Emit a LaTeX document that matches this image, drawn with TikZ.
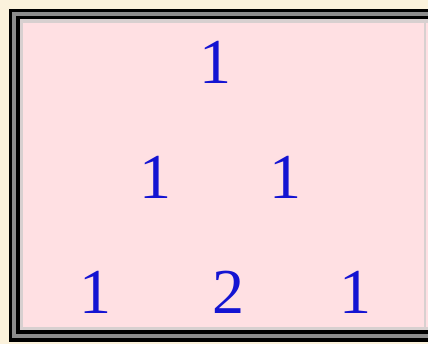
\documentclass[tikz,border=0pt]{standalone}
\usepackage{fontspec}
\setmainfont{Liberation Serif}
\definecolor{cream}{HTML}{FBF2DC}
\definecolor{pinkbg}{HTML}{FFE0E3}
\definecolor{numblue}{HTML}{1414D2}
\definecolor{framegray}{HTML}{8C8C8C}
\definecolor{lightgray}{HTML}{D8D0D0}
\begin{document}
\begin{tikzpicture}[x=1pt,y=-1pt,
  num/.style={text=numblue,font=\fontsize{64}{64}\selectfont,inner sep=0pt,anchor=center}]
\useasboundingbox (0,0) rectangle (428,344);
\fill[cream] (0,0) rectangle (428,344);
\fill[black] (9,9) rectangle (460,342);
\fill[framegray] (12,12) rectangle (457,338);
\fill[black] (16,16) rectangle (453,334);
\fill[lightgray] (19.5,19.5) rectangle (450,330);
\fill[pinkbg] (23,23) rectangle (424,327);
\fill[lightgray] (424,23) rectangle (426,327);
\fill[pinkbg] (426,23) rectangle (440,327);
\node[num] (a) at (215,62) {1};
\node[num] (b) at (155,177) {1};
\node[num] (c) at (285,177) {1};
\node[num] (d) at (95,292) {1};
\node[num] (e) at (228,292) {2};
\node[num] (f) at (355,292) {1};
\end{tikzpicture}
\end{document}
